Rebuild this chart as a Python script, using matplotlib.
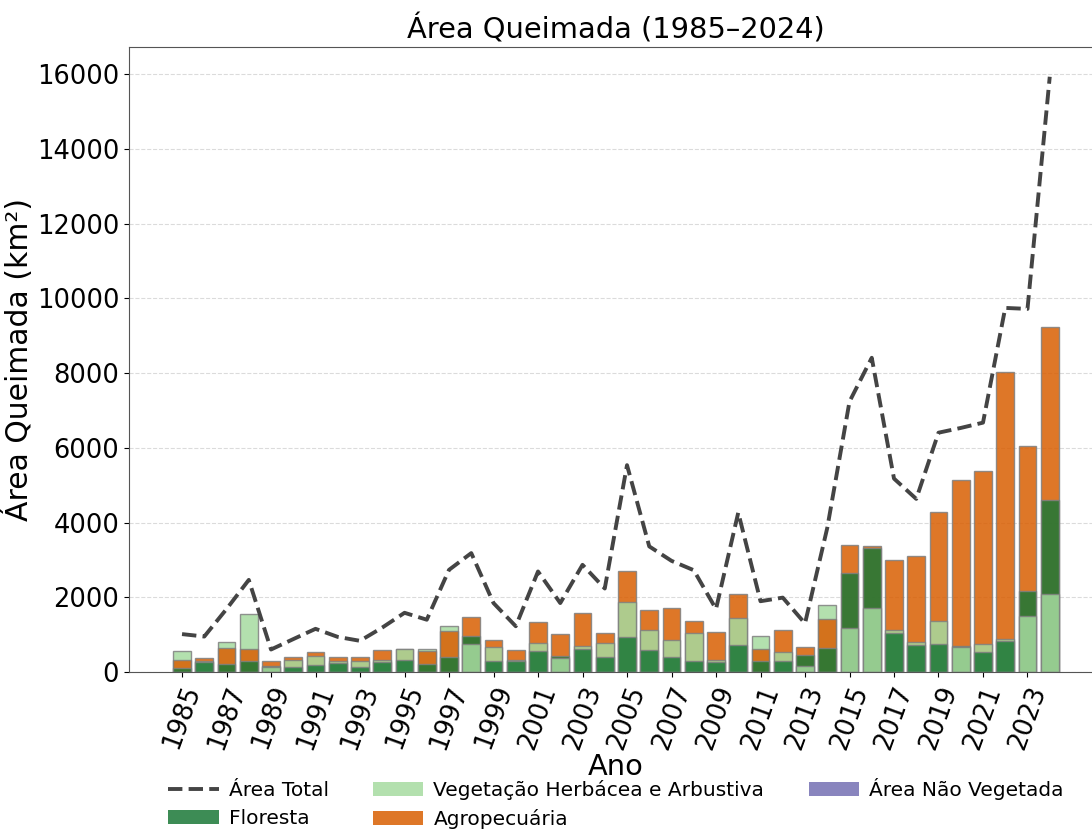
import matplotlib
matplotlib.use("Agg")
import matplotlib.pyplot as plt
from matplotlib.patches import Patch
from matplotlib.lines import Line2D

# burned area (km2) per year and land cover class
anos = list(range(1985, 2025))

floresta = [125, 265, 233, 295, 155, 134, 185, 240, 130, 265,
            335, 225, 403, 967, 310, 310, 564, 440, 609, 400,
            940, 582, 400, 313, 277, 730, 300, 313, 456, 650,
            2667, 3320, 1040, 734, 761, 700, 537, 832, 2175, 4600]

vegetacao = [555, 300, 805, 1566, 140, 340, 430, 310, 290, 330,
             625, 620, 1235, 743, 680, 330, 788, 390, 689, 790,
             1888, 1128, 860, 1047, 331, 1450, 980, 546, 179, 1790,
             1172, 1727, 1140, 806, 1369, 680, 761, 877, 1495, 2100]

agropecuaria = [340, 390, 653, 609, 313, 412, 546, 395, 420, 600,
                630, 560, 1101, 1477, 860, 590, 1343, 1020, 1575, 1050,
                2712, 1656, 1720, 1369, 1083, 2090, 620, 1137, 671, 1420,
                3401, 3365, 3000, 3097, 4278, 5155, 5379, 8037, 6050, 9230]

nao_vegetada = [0, 0, 0, 0, 0, 0, 0, 0, 0, 0,
                0, 0, 0, 0, 0, 0, 0, 0, 0, 0,
                0, 0, 0, 0, 0, 0, 0, 0, 0, 0,
                0, 0, 0, 0, 0, 0, 0, 0, 0, 0]

classes = ['Floresta', 'Vegetação Herbácea e Arbustiva', 'Agropecuária', 'Área Não Vegetada']
valores = [floresta, vegetacao, agropecuaria, nao_vegetada]
cores = ['#1b7837', '#a6dba0', '#d95f02', '#7570b3']

total = [sum(v) for v in zip(*valores)]

fig = plt.figure(figsize=(10.92, 8.33), dpi=100)
ax = fig.add_axes([0.118, 0.193, 0.892, 0.7506])

# bars overlap from zero; in every year the smaller ones go in front
conts = []
for vals, cor in zip(valores, cores):
    c = ax.bar(anos, vals, width=0.8, color=cor, alpha=0.85,
               edgecolor='gray', linewidth=1)
    conts.append(c)
for i in range(len(anos)):
    ordem = sorted(range(len(valores)), key=lambda k: -valores[k][i])
    for rank, k in enumerate(ordem):
        conts[k].patches[i].set_zorder(2 + rank)

ax.plot(anos, total, linestyle='--', color='#444444', linewidth=2.8, zorder=10)

ax.set_title('Área Queimada (1985–2024)', fontsize=20.8)
ax.set_xlabel('Ano', fontsize=20.8, labelpad=0)
ax.set_ylabel('Área Queimada (km²)', fontsize=21.5, labelpad=2)
ax.set_xticks(anos[::2])
ax.tick_params(axis='x', labelsize=18.5, rotation=70)
ax.tick_params(axis='y', labelsize=18.5)
ax.yaxis.grid(True, linestyle='--', color='lightgray', alpha=0.8)
ax.set_axisbelow(True)
for s in ax.spines.values():
    s.set_color('#555555')

handles = [Line2D([0], [0], linestyle='--', color='#444444', linewidth=2.8)]
handles += [Patch(facecolor=c, alpha=0.85) for c in cores]
labels = ['Área Total'] + classes
ax.legend(handles, labels, loc='upper center', bbox_to_anchor=(0.5, -0.14),
          ncol=3, frameon=False, fontsize=14.5, handlelength=2.5,
          handletextpad=0.5, columnspacing=2.2, labelspacing=0.45)

fig.savefig('out.png')
plt.close(fig)
